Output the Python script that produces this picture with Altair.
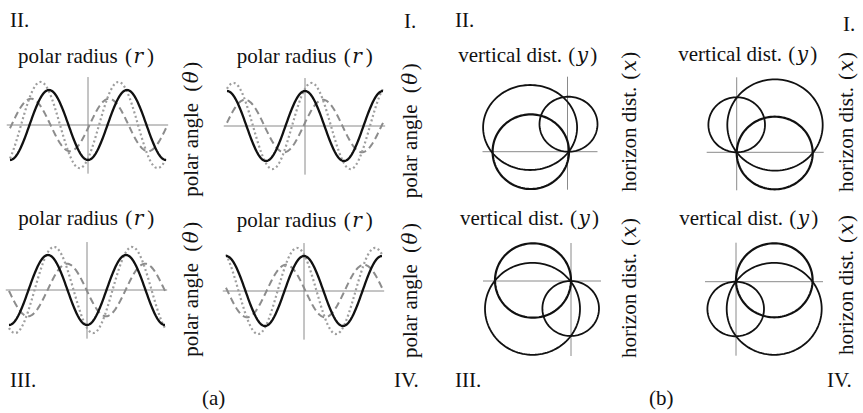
import numpy as np
import pandas as pd
import altair as alt

# ---------------------------------------------------------------------------
# (a) polar radius r (solid) and the two companion traces, two periods each
# ---------------------------------------------------------------------------
QUADRANTS = ["II", "I", "III", "IV"]
TRACE_NAMES = ["dashed", "dotted", "solid"]
TRACE_AMPLITUDE = [0.75, 1.23, 1.0]
# phase of each trace in degrees (dashed, dotted, solid)
PHASE_II = [263, 219, 180]
PHASE_I = [-83, -30, 0]
PHASE_III = [92, 152, 180]
PHASE_IV = [83, 32, 0]
TRACE_PHASE = {"II": PHASE_II, "I": PHASE_I, "III": PHASE_III, "IV": PHASE_IV}

# ---------------------------------------------------------------------------
# (b) three loci in the horizontal / vertical distance plane
#     (centre x, centre y, radius x, radius y) for small, large, medium
# ---------------------------------------------------------------------------
LOCUS_NAMES = ["small", "large", "medium"]
LOCI_II = [(0.1, 2.75, 2.9, 2.75), (-3.74, 2.42, 4.7, 4.25), (-3.67, 0.0, 3.82, 3.73)]
LOCI_I = [(0.0, 2.75, 2.83, 2.75), (3.83, 2.73, 4.77, 4.57), (3.8, -0.07, 3.8, 3.63)]
LOCI_III = [(-0.03, -2.75, 2.83, 2.75), (-3.85, -2.78, 4.75, 4.6), (-3.8, 0.05, 3.8, 3.72)]
LOCI_IV = [(-0.03, -2.73, 2.83, 2.73), (3.82, -2.71, 4.75, 4.6), (3.83, 0.14, 3.83, 3.7)]
LOCI = {"II": LOCI_II, "I": LOCI_I, "III": LOCI_III, "IV": LOCI_IV}

# ---------------------------------------------------------------------------
# layout (pixels)
# ---------------------------------------------------------------------------
W, H = 863, 413
FONT = "Liberation Serif"
MATH_FONT = "DejaVu Serif"
FS = 21
MATH_FS = 20
INK = "#111111"
AXIS_GREY = "#8a8a8a"

A_ORIGIN = {"II": (88, 125), "I": (305, 126), "III": (87, 290), "IV": (304, 291)}
A_HALF_PERIOD_PX = 78   # one period each side of the vertical axis
A_UNIT_PX = 35          # pixels per unit amplitude
A_HAXIS = (-375, 370)   # degrees
A_VAXIS = (-1.39, 1.37)

B_ORIGIN = {"II": (567.5, 151.7), "I": (736.7, 152.3), "III": (571, 281), "IV": (736, 281.7)}
B_UNIT_PX = 10
B_HAXIS = {"II": (-8.5, 3.0), "I": (-3.0, 8.7), "III": (-8.8, 3.0), "IV": (-3.1, 8.7)}
B_VAXIS = {"II": (-3.8, 7.5), "I": (-3.8, 7.5), "III": (-7.5, 3.8), "IV": (-7.4, 3.9)}

TRACE_STYLE = {
    "dashed": dict(color="#8c8c8c", strokeWidth=2.0, strokeDash=[7, 4]),
    "dotted": dict(color="#9e9e9e", strokeWidth=2.2, strokeDash=[2, 2.6]),
    "solid": dict(color=INK, strokeWidth=2.3),
}
LOCUS_WIDTH = {"small": 1.8, "large": 1.8, "medium": 2.2}


def axes_layer(sx, sy, hx, vy):
    df = pd.DataFrame({"x0": [hx[0], 0.0], "x1": [hx[1], 0.0],
                       "y0": [0.0, vy[0]], "y1": [0.0, vy[1]]})
    return alt.Chart(df).mark_rule(color=AXIS_GREY, strokeWidth=1).encode(
        x=alt.X("x0:Q", scale=sx, axis=None), x2="x1:Q",
        y=alt.Y("y0:Q", scale=sy, axis=None), y2="y1:Q",
    )


def trace_panel(q):
    ox, oy = A_ORIGIN[q]
    sx = alt.Scale(domain=[-360, 360], range=[ox - A_HALF_PERIOD_PX, ox + A_HALF_PERIOD_PX],
                   nice=False, zero=False)
    sy = alt.Scale(domain=[-1, 1], range=[oy + A_UNIT_PX, oy - A_UNIT_PX], nice=False, zero=False)
    phi = np.arange(-360, 361, 3)
    layers = [axes_layer(sx, sy, A_HAXIS, A_VAXIS)]
    for name, amp, ph in zip(TRACE_NAMES, TRACE_AMPLITUDE, TRACE_PHASE[q]):
        df = pd.DataFrame({"phi": phi, "v": amp * np.cos(np.radians(phi + ph))})
        layers.append(
            alt.Chart(df).mark_line(**TRACE_STYLE[name]).encode(
                x=alt.X("phi:Q", scale=sx, axis=None),
                y=alt.Y("v:Q", scale=sy, axis=None),
                order="phi:Q",
            )
        )
    return alt.layer(*layers)


def locus_panel(q):
    ox, oy = B_ORIGIN[q]
    sx = alt.Scale(domain=[-10, 10], range=[ox - 10 * B_UNIT_PX, ox + 10 * B_UNIT_PX],
                   nice=False, zero=False)
    sy = alt.Scale(domain=[-10, 10], range=[oy + 10 * B_UNIT_PX, oy - 10 * B_UNIT_PX],
                   nice=False, zero=False)
    t = np.arange(0, 361, 3)
    layers = [axes_layer(sx, sy, B_HAXIS[q], B_VAXIS[q])]
    for name, (cx, cy, rx, ry) in zip(LOCUS_NAMES, LOCI[q]):
        df = pd.DataFrame({"t": t,
                           "x": cx + rx * np.cos(np.radians(t)),
                           "y": cy + ry * np.sin(np.radians(t))})
        layers.append(
            alt.Chart(df).mark_line(color=INK, strokeWidth=LOCUS_WIDTH[name]).encode(
                x=alt.X("x:Q", scale=sx, axis=None),
                y=alt.Y("y:Q", scale=sy, axis=None),
                order="t:Q",
            )
        )
    return alt.layer(*layers)


# ---------------------------------------------------------------------------
# text: titles, rotated side labels, quadrant numerals, sub-figure letters
# ---------------------------------------------------------------------------
A_TITLE_POS = {"II": (18, 63), "I": (236.7, 63), "III": (18.3, 225), "IV": (236.7, 226.5)}
B_TITLE_POS = {"II": (458.3, 61.5), "I": (678.3, 61), "III": (460, 225), "IV": (679.3, 225)}
A_SIDE_POS = {"II": (197.5, 196.7), "I": (417, 198.3), "III": (197.5, 356.7), "IV": (417, 358)}
B_SIDE_POS = {"II": (636, 191.7), "I": (852.5, 192), "III": (636, 358), "IV": (852.5, 355)}
CORNERS = [("II.", 10, 27), ("I.", 404, 28), ("III.", 10, 386.5), ("IV.", 394, 386.5),
           ("II.", 455, 27), ("I.", 843, 31), ("III.", 455, 386.5), ("IV.", 827, 386.5),
           ("(a)", 202, 405), ("(b)", 649, 405)]

# each label: words, then "(", italic symbol, ")" placed at offsets along the text line
A_TITLE = ("polar radius", "r", (107, 115.5, 129))
B_TITLE = ("vertical dist.", "y", (110, 118.5, 132))
A_SIDE = ("polar angle", "θ", (105, 113.5, 128))
B_SIDE = ("horizon dist.", "x", (112, 120.5, 133))

words_h, words_v, sym_h, sym_v = [], [], [], []
for q in QUADRANTS:
    for (x0, y0), (words, sym, (o1, o2, o3)) in ((A_TITLE_POS[q], A_TITLE), (B_TITLE_POS[q], B_TITLE)):
        words_h += [dict(x=x0, y=y0, text=words), dict(x=x0 + o1, y=y0, text="("),
                    dict(x=x0 + o3, y=y0, text=")")]
        sym_h.append(dict(x=x0 + o2, y=y0, text=sym))
    for (bx, by), (words, sym, (o1, o2, o3)) in ((A_SIDE_POS[q], A_SIDE), (B_SIDE_POS[q], B_SIDE)):
        words_v += [dict(x=bx, y=by, text=words), dict(x=bx, y=by - o1, text="("),
                    dict(x=bx, y=by - o3, text=")")]
        sym_v.append(dict(x=bx, y=by - o2, text=sym))
for txt, x, y in CORNERS:
    words_h.append(dict(x=x, y=y, text=txt))

PX = alt.Scale(domain=[0, W], range=[0, W], nice=False, zero=False)
PY = alt.Scale(domain=[0, H], range=[0, H], nice=False, zero=False)


def text_layer(rows, font=FONT, size=FS, italic=False, angle=0):
    kw = dict(font=font, fontSize=size, color=INK, align="left", baseline="alphabetic")
    if italic:
        kw["fontStyle"] = "italic"
    if angle:
        kw["angle"] = angle
    return alt.Chart(pd.DataFrame(rows)).mark_text(**kw).encode(
        x=alt.X("x:Q", scale=PX, axis=None),
        y=alt.Y("y:Q", scale=PY, axis=None),
        text="text:N",
    )


layers = [trace_panel(q) for q in QUADRANTS] + [locus_panel(q) for q in QUADRANTS]
layers += [
    text_layer(words_h),
    text_layer(words_v, angle=270),
    text_layer(sym_h, font=MATH_FONT, size=MATH_FS, italic=True),
    text_layer(sym_v, font=MATH_FONT, size=MATH_FS, italic=True, angle=270),
]

chart = (
    alt.layer(*layers)
    .resolve_scale(x="independent", y="independent")
    .properties(width=W, height=H, padding=0, autosize="none", background="white")
    .configure_view(stroke=None)
)

chart.save("out.html", embed_options={"renderer": "svg", "actions": False})
